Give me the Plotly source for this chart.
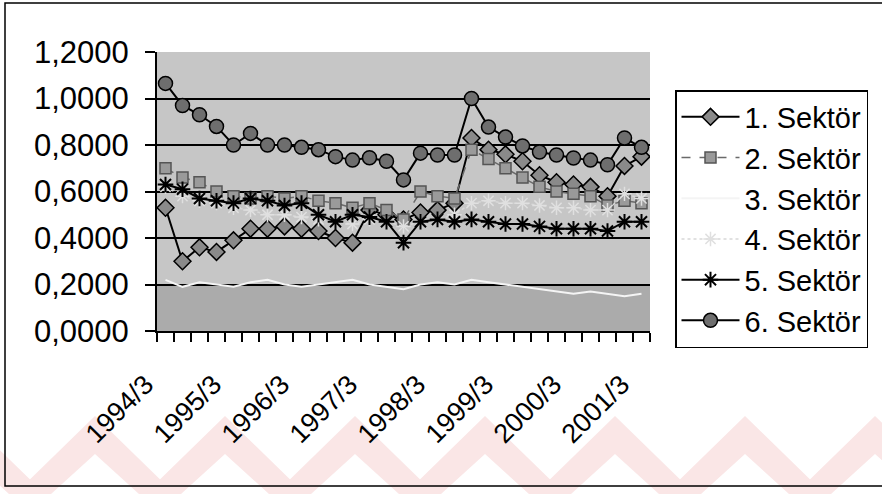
import plotly.graph_objects as go

periods = ["1994/3", "1994/6", "1994/9", "1994/12",
           "1995/3", "1995/6", "1995/9", "1995/12",
           "1996/3", "1996/6", "1996/9", "1996/12",
           "1997/3", "1997/6", "1997/9", "1997/12",
           "1998/3", "1998/6", "1998/9", "1998/12",
           "1999/3", "1999/6", "1999/9", "1999/12",
           "2000/3", "2000/6", "2000/9", "2000/12",
           "2001/3"]
tick_labels = ["1994/3", "1995/3", "1996/3", "1997/3", "1998/3", "1999/3", "2000/3", "2001/3"]

sektor1 = [0.53, 0.30, 0.36, 0.34, 0.39, 0.44, 0.44, 0.45, 0.44, 0.43, 0.40, 0.38, 0.52, 0.50,
           0.48, 0.51, 0.52, 0.55, 0.83, 0.78, 0.76, 0.73, 0.67, 0.64, 0.63, 0.62, 0.58, 0.71, 0.75]
sektor2 = [0.70, 0.66, 0.64, 0.60, 0.58, 0.57, 0.58, 0.57, 0.58, 0.56, 0.55, 0.53, 0.55, 0.52,
           0.48, 0.60, 0.58, 0.57, 0.78, 0.74, 0.70, 0.66, 0.62, 0.60, 0.59, 0.58, 0.54, 0.56, 0.55]
sektor3 = [0.22, 0.19, 0.21, 0.20, 0.19, 0.21, 0.22, 0.20, 0.19, 0.20, 0.21, 0.22, 0.20, 0.19,
           0.18, 0.20, 0.21, 0.20, 0.22, 0.21, 0.20, 0.19, 0.18, 0.17, 0.16, 0.17, 0.16, 0.15, 0.16]
sektor4 = [0.62, 0.58, 0.56, 0.55, 0.53, 0.52, 0.50, 0.50, 0.49, 0.48, 0.47, 0.46, 0.48, 0.47,
           0.45, 0.47, 0.48, 0.50, 0.55, 0.56, 0.55, 0.55, 0.54, 0.53, 0.53, 0.52, 0.52, 0.59, 0.57]
sektor5 = [0.63, 0.61, 0.57, 0.56, 0.55, 0.57, 0.56, 0.54, 0.55, 0.50, 0.47, 0.50, 0.49, 0.47,
           0.38, 0.47, 0.48, 0.47, 0.48, 0.47, 0.46, 0.46, 0.45, 0.44, 0.44, 0.44, 0.43, 0.47, 0.47]
sektor6 = [1.065, 0.97, 0.93, 0.88, 0.80, 0.85, 0.80, 0.80, 0.79, 0.78, 0.75, 0.735, 0.745, 0.73,
           0.65, 0.765, 0.757, 0.757, 1.00, 0.877, 0.834, 0.796, 0.77, 0.757, 0.744, 0.735, 0.715, 0.83, 0.79]

xs = list(range(len(periods)))
tick_pos = [periods.index(t) for t in tick_labels]

fig = go.Figure()
FONT = "Liberation Sans, Arial, sans-serif"

styles = [
    ("1. Sektör", sektor1, dict(color="black", width=2), dict(symbol="diamond", size=13, color="#8a8a8a", line=dict(color="black", width=1.5))),
    ("2. Sektör", sektor2, dict(color="#6a6a6a", width=1.5, dash="dash"), dict(symbol="square", size=11, color="#9a9a9a", line=dict(color="#555555", width=1.5))),
    ("3. Sektör", sektor3, dict(color="#f4f4f4", width=2), dict(size=1, color="rgba(0,0,0,0)")),
    ("4. Sektör", sektor4, dict(color="#d8d8d8", width=1.5, dash="dot"), dict(symbol="asterisk-open", size=12, color="#e0e0e0", line=dict(color="#d0d0d0", width=1.5))),
    ("5. Sektör", sektor5, dict(color="black", width=2), dict(symbol="asterisk-open", size=13, color="black", line=dict(color="black", width=2))),
    ("6. Sektör", sektor6, dict(color="black", width=2), dict(symbol="circle", size=14, color="#6e6e6e", line=dict(color="black", width=1.5))),
]
for name, vals, ln, mk in styles:
    fig.add_trace(go.Scatter(x=xs, y=vals, name=name, mode="lines+markers", line=ln, marker=mk,
                             hovertext=periods))

# pixel -> paper helpers (plot area: x 157..650, y 52..331)
def px(xp):
    return (xp - 157) / 493.0

def py(yp):
    return (331 - yp) / 279.0

# faint pink chevron watermark at the bottom of the scan
for c in range(-35, 1000, 130):
    path = "M {},{} L {},{} L {},{} L {},{} L {},{} L {},{} Z".format(
        px(c - 80), py(494), px(c), py(416), px(c + 80), py(494),
        px(c + 44), py(494), px(c), py(454), px(c - 44), py(494))
    fig.add_shape(type="path", xref="paper", yref="paper", path=path,
                  fillcolor="#fae6e6", line_width=0, layer="below")

# darker lower band of the plot area
fig.add_shape(type="rect", xref="paper", yref="y", x0=0, x1=1, y0=0, y1=0.2,
              fillcolor="#ababab", line_width=0, layer="below")
# chart outer border
fig.add_shape(type="rect", xref="paper", yref="paper", x0=px(5), x1=px(886), y0=py(486), y1=py(3),
              line=dict(color="black", width=1.5), fillcolor="rgba(0,0,0,0)")

fig.update_layout(
    width=882, height=494,
    margin=dict(l=157, r=232, t=52, b=163),
    paper_bgcolor="white",
    plot_bgcolor="#c6c6c6",
    separators=",.",
    font=dict(family=FONT, color="black"),
    showlegend=True,
    legend=dict(x=px(675), y=py(90), xanchor="left", yanchor="top",
                bordercolor="black", borderwidth=1.5, bgcolor="white",
                font=dict(size=29, family=FONT), itemwidth=58, tracegroupgap=0),
)
fig.update_xaxes(
    range=[-0.5, len(periods) - 0.5],
    tickmode="array", tickvals=tick_pos, ticktext=tick_labels,
    tickangle=-45, ticks="", showgrid=False, zeroline=False,
    showline=True, linecolor="black", linewidth=2,
    tickfont=dict(size=27, family=FONT), ticklabelshift=-20, ticklabelstandoff=25,
    minor=dict(ticks="outside", tick0=-0.5, dtick=1, ticklen=9, tickcolor="black", tickwidth=1.5, showgrid=False),
)
fig.update_yaxes(
    range=[0, 1.2], tickmode="linear", tick0=0, dtick=0.2, tickformat=".4f",
    showgrid=True, gridcolor="black", gridwidth=1.5, zeroline=False,
    showline=True, linecolor="black", linewidth=2,
    ticks="outside", ticklen=10, tickcolor="black", tickwidth=1.5,
    tickfont=dict(size=31, family=FONT), ticklabelstandoff=10,
)

fig.write_html("out.html")
